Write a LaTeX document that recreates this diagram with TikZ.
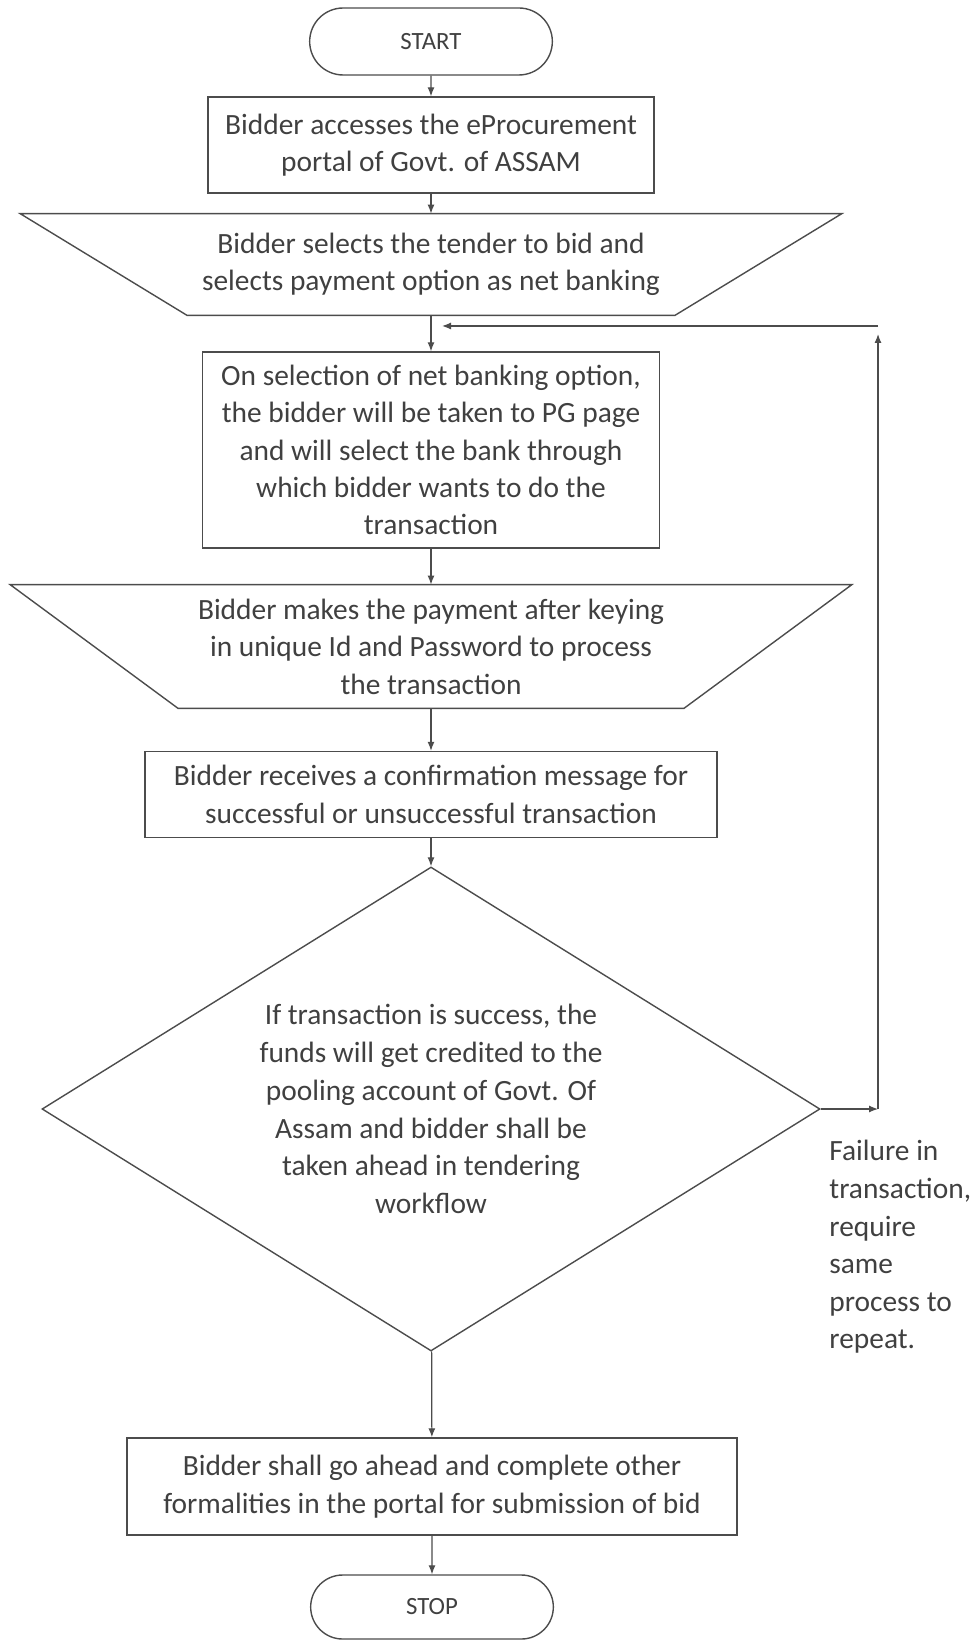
\documentclass[tikz,border=0pt]{standalone}
\usepackage{fontspec}
\setmainfont{Carlito}
\usepackage{tikz}
\usetikzlibrary{shapes.misc,shapes.geometric,arrows.meta}
\tikzstyle{terminal}=[rounded rectangle, draw=black!70, line width=0.7pt, minimum width=128pt, minimum height=33.5pt, text=black!75, font=\fontsize{12.4}{14}\selectfont]
\tikzstyle{process}=[rectangle, draw=black!70, line width=0.7pt, align=center, inner sep=0pt, text=black!75, font=\fontsize{14.7}{18.7}\selectfont]
\tikzstyle{manual}=[rectangle, align=center, inner sep=0pt, text=black!75, font=\fontsize{14.7}{18.7}\selectfont]
\tikzstyle{slanted}=[draw=black!70, line width=0.7pt, line join=miter]
\tikzstyle{decision}=[diamond, aspect=1.6, draw=black!70, line width=0.7pt, align=center, inner sep=0pt, minimum width=389pt, minimum height=242pt, text=black!75, font=\fontsize{14.7}{18.9}\selectfont]
\tikzstyle{remark}=[anchor=north west, align=left, inner sep=0pt, text=black!75, font=\fontsize{14.7}{18.8}\selectfont]

\begin{document}
\begin{tikzpicture}[x=0.5pt, y=-0.5pt, >={Latex[length=4.5pt,width=3.5pt]}]
	\useasboundingbox (0,0) rectangle (976,1641);
	\begin{scope}
		\node (start) at (431, 41.5) [terminal] {START};
		\node (b1) at (431, 145) [process, minimum width=223pt, minimum height=48pt] {Bidder accesses the eProcurement\\portal of Govt. of ASSAM};
		\node (t1) at (431, 264.5) [manual, minimum width=410.5pt, minimum height=50.5pt] {Bidder selects the tender to bid and\\selects payment option as net banking};
		\node (b2) at (431, 450) [process, minimum width=228.5pt, minimum height=98pt] {On selection of net banking option,\\the bidder will be taken to PG page\\and will select the bank through\\which bidder wants to do the\\transaction};
		\node (t2) at (431, 646.5) [manual, minimum width=420.5pt, minimum height=61.5pt] {Bidder makes the payment after keying\\in unique Id and Password to process\\the transaction};
		\node (b3) at (431, 794.5) [process, minimum width=286pt, minimum height=43pt] {Bidder receives a confirmation message for\\successful or unsuccessful transaction};
		\node (d) at (431, 1109) [decision] {If transaction is success, the\\funds will get credited to the\\pooling account of Govt. Of\\Assam and bidder shall be\\taken ahead in tendering\\workflow};
		\node (b4) at (432, 1486.5) [process, minimum width=305pt, minimum height=48.5pt] {Bidder shall go ahead and complete other\\formalities in the portal for submission of bid};
		\node (stop) at (432, 1607) [terminal, minimum height=32pt] {STOP};
		\node (fail) at (829, 1140) [remark] {Failure in\\transaction,\\require\\same\\process to\\repeat.};

		\coordinate (l1) at (878, 1109);
		\coordinate (l2) at (878, 334);
		\coordinate (l3) at (878, 326);
		\coordinate (l4) at (442, 326);

		% wide-topped boxes
		\draw [slanted] (t1.north west) -- (t1.north east) -- ([xshift=-83.5pt]t1.south east) -- ([xshift=83.5pt]t1.south west) -- cycle;
		\draw [slanted] (t2.north west) -- (t2.north east) -- ([xshift=-84pt]t2.south east) -- ([xshift=84pt]t2.south west) -- cycle;
	\end{scope}
	\begin{scope}[line width=0.6pt, draw=black!70]
		\path [->] (start) edge (b1);
		\path [->] (b1) edge (t1);
		\path [->] (t1) edge (b2);
		\path [->] (b2) edge (t2);
		\path [->] (t2) edge (b3);
		\path [->] (b3) edge (d);
		\path [->] (d) edge (b4);
		\path [->] (b4) edge (stop);

		\path [->] (d.east) edge (l1);
		\path [->] (l1) edge (l2);
		\path [->] (l3) edge (l4);
	\end{scope}
\end{tikzpicture}
\end{document}
